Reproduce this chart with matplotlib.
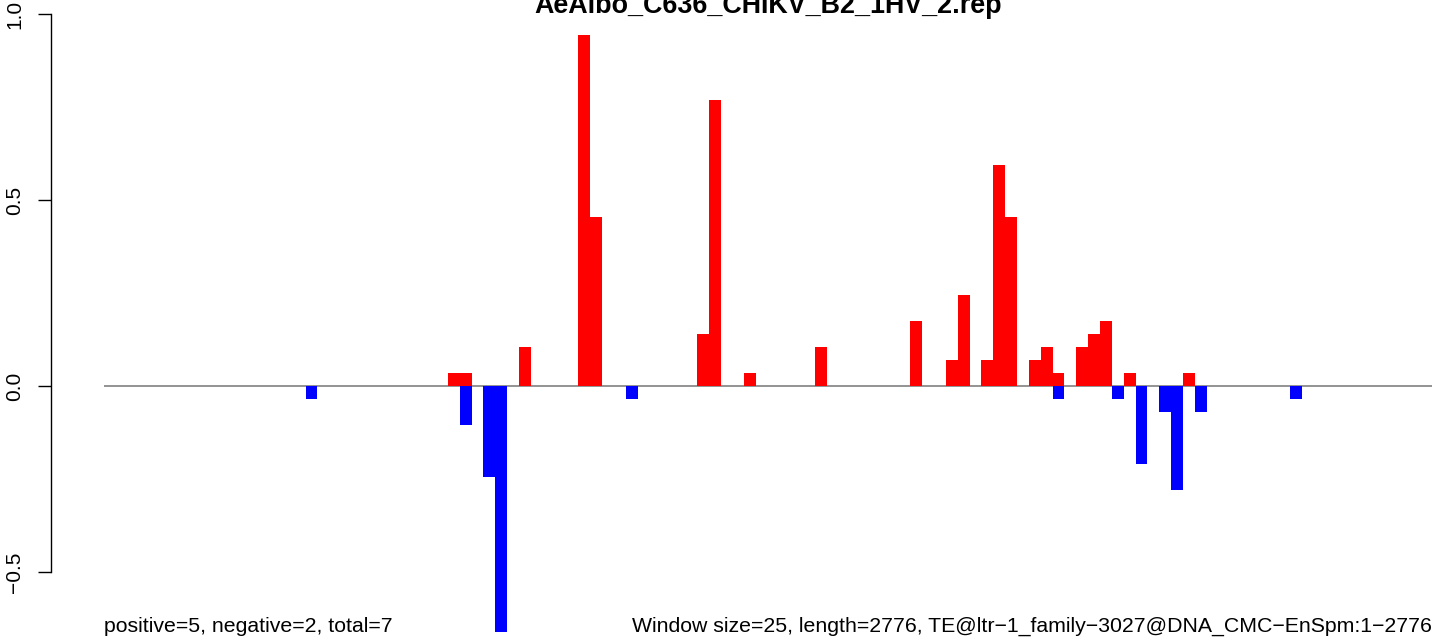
import numpy as np
import matplotlib.pyplot as plt

plt.rcParams['font.family'] = ['Liberation Sans', 'DejaVu Sans']

title = "AeAlbo_C636_CHIKV_B2_1HV_2.rep"
n_windows = 112

# windows with reads on the plus strand and their fraction
pos_windows = [29, 30, 35, 40, 41, 50, 51, 54, 60, 68, 71, 72, 74, 75, 76,
               78, 79, 80, 82, 83, 84, 86, 91]
pos_values = [0.035, 0.035, 0.105, 0.944, 0.454, 0.140, 0.769, 0.035, 0.105,
              0.175, 0.070, 0.245, 0.070, 0.594, 0.454, 0.070, 0.105, 0.035,
              0.105, 0.140, 0.175, 0.035, 0.035]

# windows with reads on the minus strand
neg_windows = [17, 30, 32, 33, 44, 80, 85, 87, 89, 90, 92, 100]
neg_values = [-0.035, -0.105, -0.245, -0.661, -0.035, -0.035, -0.035,
              -0.210, -0.070, -0.280, -0.070, -0.035]

left_note = "positive=5, negative=2, total=7"
right_note = ("Window size=25, length=2776, "
              "TE@ltr\u22121_family\u22123027@DNA_CMC\u2212EnSpm:1\u22122776")

pos = np.zeros(n_windows)
pos[pos_windows] = pos_values
neg = np.zeros(n_windows)
neg[neg_windows] = neg_values
x = np.arange(n_windows)

fig = plt.figure(figsize=(14.44, 6.44), dpi=100)
ax = fig.add_axes([104 / 1444, 0, 1328 / 1444, 1])

ax.bar(x, pos, width=1, align='edge', color='#ff0000', linewidth=0)
ax.bar(x, neg, width=1, align='edge', color='#0000ff', linewidth=0)
ax.axhline(0, color='#808080', linewidth=1.2, zorder=0)

ax.set_xlim(0, n_windows)
ax.set_ylim(-258 / 372, 386 / 372)

for s in ['top', 'right', 'bottom']:
    ax.spines[s].set_visible(False)
ax.spines['left'].set_position(('outward', 53 * 0.72))
ax.spines['left'].set_bounds(-0.5, 1.0)
ax.spines['left'].set_linewidth(1.0)
ax.set_xticks([])
ax.set_yticks([-0.5, 0.0, 0.5, 1.0])
ax.set_yticklabels(['\u22120.5', '0.0', '0.5', '1.0'], rotation=90, va='center')
ax.tick_params(axis='y', length=13 * 0.72, width=1.0, labelsize=15, pad=10)
ax.patch.set_visible(False)

fig.text(768 / 1444, 1 - 13 / 644, title, ha='center', va='baseline',
         fontsize=19.4, fontweight='bold')
fig.text(104 / 1444, 1 - 632 / 644, left_note, ha='left', va='baseline', fontsize=15.3)
fig.text(1432 / 1444, 1 - 632 / 644, right_note, ha='right', va='baseline', fontsize=15.3)

fig.savefig("out.png", dpi=100)
